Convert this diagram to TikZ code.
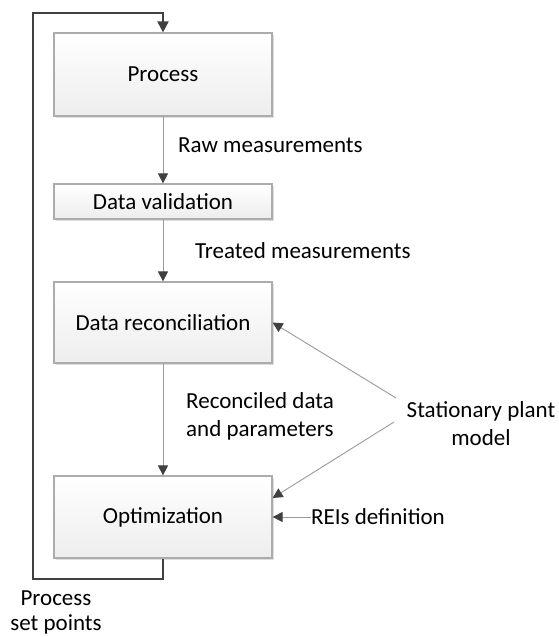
\documentclass[tikz,border=0pt]{standalone}
\usepackage{fontspec}
\setmainfont{Carlito}
\usetikzlibrary{arrows.meta,shadows}
\definecolor{tipgray}{HTML}{404040}
\tikzset{
    blk/.style={draw=gray!65, line width=1.2pt, top color=white, bottom color=gray!14,
        minimum width=218pt, inner sep=0pt,
        drop shadow={shadow xshift=1.5pt, shadow yshift=-1.5pt, opacity=0.25, fill=gray}},
    lbl/.style={inner sep=0pt, align=left},
    flow/.style={draw=gray!80, line width=0.9pt, -{Triangle[length=10pt, width=10pt, color=tipgray]}},
    loopline/.style={draw=tipgray, line width=2pt, -{Triangle[length=11pt, width=11pt, color=tipgray]}},
}
\begin{document}
\begin{tikzpicture}[x=1pt, y=-1pt, font=\fontsize{23}{28}\selectfont]
                    \useasboundingbox (0,0) rectangle (558,637);
                    \node[blk, minimum height=83pt] at (163, 74.5) (proc) {Process};
                    \node[blk, minimum height=35pt] at (163, 201.5) (valid) {Data validation};
                    \node[blk, minimum height=81pt] at (163, 322.5) (recon) {Data reconciliation};
                    \node[blk, minimum height=82pt] at (163, 517) (opt) {Optimization};

                    \node[lbl, anchor=west] at (178, 145) (raw) {Raw measurements};
                    \node[lbl, anchor=west] at (195, 251) (treat) {Treated measurements};
                    \node[lbl, anchor=west] at (186, 416) (recdata) {Reconciled data\\and parameters};
                    \node[lbl, align=center] at (481, 423.5) (model) {Stationary plant\\model};
                    \node[lbl, anchor=west] at (311, 517) (rei) {REIs definition};
                    \node[lbl, align=center, font=\fontsize{23}{25}\selectfont] at (56, 612) (setp) {Process\\set points};

                    \coordinate (m1) at (396, 398);
                    \coordinate (m2) at (394, 422);
                    \coordinate (o1) at ([yshift=19pt]opt.east);
                    \coordinate (lb) at (33, 579);
                    \coordinate (lt) at (33, 13);

                    \path[every edge/.append style={flow}]
                        (proc) edge (valid)
                        (valid) edge (recon)
                        (recon) edge (opt)
                        (m1) edge (recon.east)
                        (m2) edge (o1)
                        (rei) edge (opt.east);
                    % feedback of the set points
                    \draw[loopline] (opt.south) |- (lb) -- (lt) -| (proc.north);
                \end{tikzpicture}
\end{document}
